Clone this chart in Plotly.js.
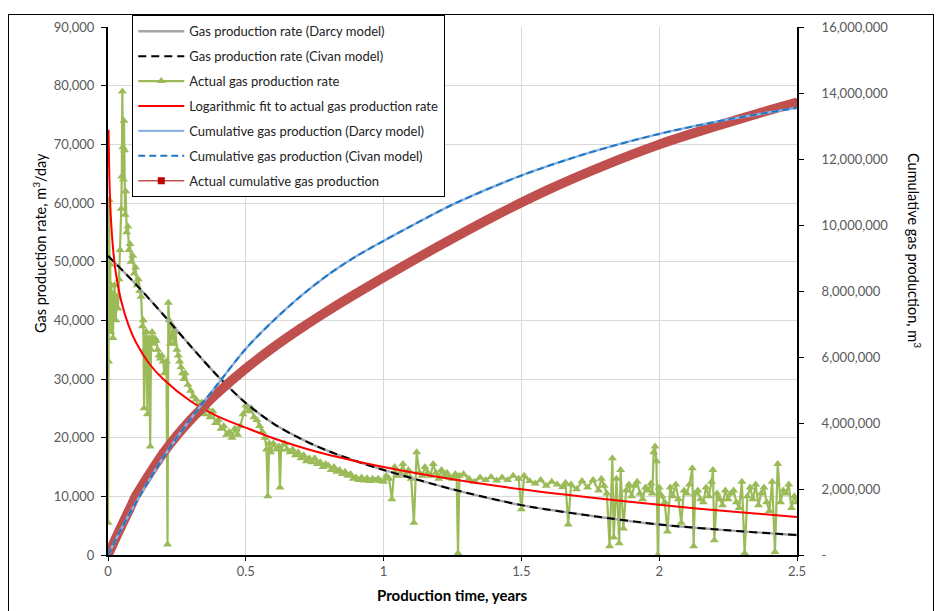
<!DOCTYPE html>
<html>
<head>
<meta charset="utf-8">
<script src="https://cdn.plot.ly/plotly-3.0.1.min.js"></script>
<style>
  html, body { margin: 0; padding: 0; background: #fff; }
  #wrap { position: relative; width: 936px; height: 611px; }
  #chart { width: 936px; height: 611px; }
  #frame { position: absolute; left: 8px; top: 14px; width: 924px; height: 604px;
           border: 1.5px solid #000; pointer-events: none; }
</style>
</head>
<body>
<div id="wrap">
  <div id="chart"></div>
  <div id="frame"></div>
</div>
<script>
// ---------------- data ----------------
// Model gas production rate, m3/day (left axis)
const modelTime  = [0, 0.1, 0.2, 0.3, 0.4, 0.5, 0.6, 0.7, 0.8, 0.9, 1.0, 1.25, 1.5, 1.75, 2.0, 2.25, 2.5];
const darcyRate  = [51000, 46200, 41000, 35600, 30400, 25900, 22400, 19800, 17700, 16000, 14500, 11200, 8500, 6700, 5200, 4200, 3400];
const civanRate  = [51000, 46200, 41000, 35600, 30400, 25900, 22400, 19800, 17700, 16000, 14500, 11200, 8500, 6700, 5200, 4200, 3400];

// Actual gas production rate, m3/day (left axis)
const actualTime = [
  0.000, 0.002, 0.004, 0.006, 0.008, 0.010, 0.012, 0.014, 0.016, 0.018,
  0.020, 0.024, 0.028, 0.032, 0.036, 0.040, 0.044, 0.048, 0.050, 0.052,
  0.054, 0.056, 0.058, 0.060, 0.062, 0.064, 0.068, 0.072, 0.076, 0.080,
  0.084, 0.090, 0.095, 0.100, 0.105, 0.110, 0.115, 0.120, 0.125, 0.128,
  0.131, 0.134, 0.137, 0.140, 0.143, 0.146, 0.150, 0.153, 0.156, 0.160,
  0.165, 0.170, 0.175, 0.180, 0.185, 0.190, 0.195, 0.200, 0.205, 0.212,
  0.216, 0.219, 0.222, 0.226, 0.230, 0.235, 0.240, 0.245, 0.250, 0.255,
  0.260, 0.265, 0.270, 0.275, 0.280, 0.290, 0.300, 0.310, 0.320, 0.330,
  0.340, 0.350, 0.360, 0.370, 0.380, 0.390, 0.400, 0.410, 0.420, 0.430,
  0.440, 0.450, 0.460, 0.470, 0.480, 0.490, 0.500, 0.510, 0.520, 0.530,
  0.540, 0.550, 0.560, 0.570, 0.575, 0.580, 0.585, 0.590, 0.600, 0.610,
  0.620, 0.624, 0.628, 0.640, 0.650, 0.660, 0.670, 0.680, 0.690, 0.700,
  0.710, 0.720, 0.730, 0.740, 0.750, 0.760, 0.770, 0.780, 0.790, 0.800,
  0.810, 0.820, 0.830, 0.840, 0.850, 0.860, 0.870, 0.880, 0.890, 0.900,
  0.910, 0.920, 0.930, 0.940, 0.950, 0.960, 0.970, 0.980, 0.990, 1.000,
  1.010, 1.020, 1.030, 1.040, 1.050, 1.060, 1.070, 1.080, 1.090, 1.100,
  1.110, 1.120, 1.130, 1.140, 1.150, 1.160, 1.170, 1.180, 1.190, 1.200,
  1.210, 1.220, 1.230, 1.240, 1.250, 1.260, 1.265, 1.270, 1.275, 1.290,
  1.310, 1.330, 1.350, 1.370, 1.390, 1.410, 1.430, 1.450, 1.470, 1.490,
  1.500, 1.510, 1.530, 1.550, 1.570, 1.590, 1.610, 1.630, 1.650, 1.660,
  1.670, 1.680, 1.700, 1.720, 1.740, 1.760, 1.780, 1.790, 1.800, 1.810,
  1.820, 1.830, 1.835, 1.845, 1.855, 1.860, 1.870, 1.880, 1.890, 1.900,
  1.910, 1.920, 1.930, 1.940, 1.950, 1.960, 1.970, 1.975, 1.980, 1.985,
  1.990, 1.995, 2.000, 2.010, 2.020, 2.030, 2.040, 2.050, 2.060, 2.070,
  2.080, 2.090, 2.100, 2.110, 2.120, 2.125, 2.130, 2.140, 2.150, 2.160,
  2.170, 2.180, 2.190, 2.195, 2.200, 2.210, 2.220, 2.230, 2.240, 2.250,
  2.260, 2.270, 2.280, 2.290, 2.300, 2.310, 2.320, 2.330, 2.340, 2.350,
  2.360, 2.370, 2.380, 2.390, 2.400, 2.410, 2.420, 2.430, 2.440, 2.450,
  2.460, 2.470, 2.480, 2.490, 2.500
];
const actualRate = [
  5500, 33000, 60500, 45000, 49500, 38000, 46000, 41000, 44000, 37000,
  43000, 46000, 40000, 44000, 42000, 47000, 52000, 59000, 64500, 79000,
  69500, 64000, 74000, 69000, 58000, 62000, 55000, 56000, 52000, 53000,
  50000, 51000, 48000, 49000, 46000, 47000, 45000, 44000, 39000, 40000,
  25000, 35000, 38000, 38000, 24000, 36000, 37000, 18500, 35000, 38000,
  36000, 37000, 36500, 35000, 34000, 33500, 34000, 33000, 31000, 33000,
  1800, 43000, 40000, 36000, 37000, 39000, 36000, 38000, 35000, 34000,
  33000, 32000, 31000, 30000, 31000, 29000, 28000, 27000, 26500, 25000,
  26000, 24000, 25000, 23500, 24500, 22500, 23000, 21500, 22000, 20500,
  21000, 20000, 21500, 20500, 22000, 24000, 25500, 24500, 25000, 23500,
  23000, 22000, 21000, 20000, 18000, 10000, 19000, 17500, 19000, 18000,
  18500, 11500, 18000, 19000, 18000, 17500, 18000, 17000, 17500, 16500,
  17000, 16000, 16500, 15800, 16500, 15500, 15800, 15000, 15500, 15200,
  14500, 15000, 14200, 14500, 13800, 14200, 13500, 13800, 13000, 13200,
  12800, 13200, 12700, 13100, 12600, 13000, 12700, 13000, 12600, 12500,
  13500, 13000, 9500, 15000, 13500, 14000, 15500, 13500, 14500, 13000,
  5500, 17500, 14000, 13500, 15000, 14000, 13500, 15500, 14000, 13000,
  14500, 13500, 14000, 13200, 13000, 13800, 13500, 300, 13500, 13800,
  13000, 12500, 13200, 12800, 13300, 12700, 13200, 12800, 13500, 13000,
  7800, 13500, 12600, 12200, 12800, 11800, 12500, 12000, 11600, 12300,
  5200, 12000, 11200, 12600, 11500, 12800, 11000, 13000, 11800, 10500,
  1500, 16500, 3000, 13000, 2000, 14500, 4500, 11000, 12000, 10000,
  11800, 12500, 10500, 9500, 11500, 11000, 12200, 10500, 17500, 18500,
  16000, 0, 11500, 10000, 9000, 4000, 11500, 10000, 12000, 9500,
  5500, 11000, 10500, 12000, 14800, 1500, 10500, 11000, 9500, 9000,
  11500, 10000, 12500, 14500, 2500, 10500, 9500, 8500, 11000, 9500,
  10500, 11000, 9000, 8000, 12500, 300, 10000, 11500, 9500, 12000,
  8500, 10500, 11500, 9000, 7500, 12500, 500, 15500, 9000, 11000,
  10500, 12000, 8000, 10000, 9000
];

// Logarithmic fit to actual gas production rate, m3/day (left axis)
const fitTime = [0.002, 0.005, 0.01, 0.02, 0.03, 0.05, 0.075, 0.1, 0.15, 0.2, 0.3, 0.4, 0.5, 0.6, 0.75, 1.0, 1.25, 1.5, 1.75, 2.0, 2.25, 2.5];
const fitRate = [72500, 64300, 57800, 51400, 47600, 42900, 39100, 36400, 32600, 30000, 26200, 23600, 21700, 19900, 17700, 15000, 12900, 11200, 9800, 8550, 7450, 6480];

// Model cumulative gas production, m3 (right axis)
const cumModelTime = [0, 0.05, 0.1, 0.15, 0.2, 0.25, 0.3, 0.35, 0.4, 0.5, 0.6, 0.7, 0.8, 0.9, 1.0, 1.1, 1.25, 1.5, 1.75, 2.0, 2.25, 2.5];
const cumDarcy = [0, 820000, 1570000, 2280000, 2950000, 3560000, 4130000, 4670000, 5200000, 6250000, 7100000, 7850000, 8500000, 9050000, 9520000, 9970000, 10620000, 11500000, 12200000, 12760000, 13200000, 13550000];
const cumCivan = [0, 820000, 1570000, 2280000, 2950000, 3560000, 4130000, 4670000, 5200000, 6250000, 7100000, 7850000, 8500000, 9050000, 9520000, 9970000, 10620000, 11500000, 12200000, 12760000, 13200000, 13550000];

// Actual cumulative gas production, m3 (right axis)
const cumActualTime = [0, 0.02, 0.05, 0.08, 0.1, 0.125, 0.15, 0.2, 0.25, 0.3, 0.35, 0.4, 0.5, 0.6, 0.7, 0.8, 0.9, 1.0, 1.2, 1.4, 1.6, 1.8, 2.0, 2.2, 2.4, 2.5];
const cumActual = [0, 360000, 900000, 1420000, 1780000, 2120000, 2450000, 3080000, 3620000, 4100000, 4530000, 4930000, 5650000, 6290000, 6870000, 7410000, 7920000, 8410000, 9360000, 10260000, 11080000, 11800000, 12440000, 12980000, 13480000, 13720000];

// Tick labels
const xTickVals = [0, 0.5, 1, 1.5, 2, 2.5];
const xTickText = ['0', '0.5', '1', '1.5', '2', '2.5'];
const yTickVals = [0, 10000, 20000, 30000, 40000, 50000, 60000, 70000, 80000, 90000];
const yTickText = ['0', '10,000', '20,000', '30,000', '40,000', '50,000', '60,000', '70,000', '80,000', '90,000'];
const y2TickVals = [0, 2000000, 4000000, 6000000, 8000000, 10000000, 12000000, 14000000, 16000000];
const y2TickText = ['-', '2,000,000', '4,000,000', '6,000,000', '8,000,000', '10,000,000', '12,000,000', '14,000,000', '16,000,000'];

const legendNames = [
  'Gas production rate (Darcy model)',
  'Gas production rate (Civan model)',
  'Actual gas production rate',
  'Logarithmic fit to actual gas production rate',
  'Cumulative gas production (Darcy model)',
  'Cumulative gas production (Civan model)',
  'Actual cumulative gas production'
];

// ---------------- traces ----------------
const FONT = 'Lato, "Open Sans", sans-serif';
const SPL = { shape: 'spline', smoothing: 0.8 };
const traces = [
  // cumulative (right axis)
  {
    x: cumActualTime, y: cumActual, yaxis: 'y2', type: 'scatter', mode: 'lines+markers',
    name: legendNames[6], legendgroup: 'g7', legendrank: 7,
    line: { color: '#C0504D', width: 1.5 },
    marker: { symbol: 'square', size: 7, color: '#C00000' }
  },
  {
    x: cumActualTime, y: cumActual, yaxis: 'y2', type: 'scatter', mode: 'lines',
    showlegend: false, legendgroup: 'g7',
    line: Object.assign({ color: '#C0504D', width: 9.5 }, SPL)
  },
  {
    x: cumModelTime, y: cumDarcy, yaxis: 'y2', type: 'scatter', mode: 'lines',
    name: legendNames[4], legendgroup: 'g5', legendrank: 5,
    line: Object.assign({ color: '#8DB4E2', width: 2.4 }, SPL)
  },
  {
    x: cumModelTime, y: cumCivan, yaxis: 'y2', type: 'scatter', mode: 'lines',
    name: legendNames[5], legendgroup: 'g6', legendrank: 6,
    line: Object.assign({ color: '#1F77C4', width: 2, dash: '7px,4px' }, SPL)
  },
  // rates (left axis)
  {
    x: actualTime, y: actualRate, type: 'scatter', mode: 'lines+markers',
    name: legendNames[2], legendgroup: 'g3', legendrank: 3,
    line: { color: '#9BBB59', width: 2.2 },
    marker: { symbol: 'triangle-up', size: 8, color: '#9BBB59' }
  },
  {
    x: modelTime, y: darcyRate, type: 'scatter', mode: 'lines',
    name: legendNames[0], legendgroup: 'g1', legendrank: 1,
    line: Object.assign({ color: '#A6A6A6', width: 2.4 }, SPL)
  },
  {
    x: modelTime, y: civanRate, type: 'scatter', mode: 'lines',
    name: legendNames[1], legendgroup: 'g2', legendrank: 2,
    line: Object.assign({ color: '#000000', width: 2, dash: '8px,5px' }, SPL)
  },
  {
    x: fitTime, y: fitRate, type: 'scatter', mode: 'lines',
    name: legendNames[3], legendgroup: 'g4', legendrank: 4,
    line: Object.assign({ color: '#FF0000', width: 2 }, SPL)
  }
];

const layout = {
  width: 936, height: 611,
  margin: { l: 108, r: 139, t: 27, b: 56, pad: 0 },
  paper_bgcolor: '#ffffff', plot_bgcolor: '#ffffff',
  font: { family: FONT, size: 12.5, color: '#595959' },
  showlegend: true,
  legend: {
    x: 0.0348, y: 1.0227, xanchor: 'left', yanchor: 'top',
    bgcolor: '#ffffff', bordercolor: '#000000', borderwidth: 1.3,
    font: { family: FONT, size: 13, color: '#222222' },
    traceorder: 'grouped', tracegroupgap: 5, itemwidth: 46
  },
  xaxis: {
    range: [0, 2.5], tickvals: xTickVals, ticktext: xTickText,
    showgrid: true, gridcolor: '#D9D9D9', gridwidth: 1,
    showline: true, linecolor: '#000000', linewidth: 1.5,
    ticks: 'outside', ticklen: 4, tickcolor: '#000000',
    zeroline: false, tickfont: { family: FONT, size: 13, color: '#595959' }
  },
  yaxis: {
    range: [0, 90000], tickvals: yTickVals, ticktext: yTickText,
    showgrid: true, gridcolor: '#D9D9D9', gridwidth: 1,
    showline: true, linecolor: '#000000', linewidth: 2,
    ticks: 'outside', ticklen: 5, tickcolor: '#000000',
    zeroline: false, tickfont: { family: FONT, size: 13, color: '#595959' },
    ticklabelstandoff: 4
  },
  yaxis2: {
    range: [0, 16000000], tickvals: y2TickVals, ticktext: y2TickText,
    overlaying: 'y', side: 'right', showgrid: false,
    showline: true, linecolor: '#000000', linewidth: 2,
    ticks: 'outside', ticklen: 5, tickcolor: '#000000',
    zeroline: false, tickfont: { family: FONT, size: 13, color: '#595959' },
    ticklabelstandoff: 15
  },
  annotations: [
    {
      text: 'Production time, years', xref: 'paper', yref: 'paper',
      x: 0.5, y: -0.0758, xanchor: 'center', yanchor: 'middle', showarrow: false,
      font: { family: FONT, size: 15, color: '#000000', weight: 'bold' }
    },
    {
      text: 'Gas production rate, m<sup>3</sup>/day', xref: 'paper', yref: 'paper',
      x: (40 - 108) / 689, y: (555 - 243) / 528, xanchor: 'center', yanchor: 'middle',
      textangle: -90, showarrow: false,
      font: { family: FONT, size: 14.5, color: '#000000' }
    },
    {
      text: 'Cumulative gas production, m<sup>3</sup>', xref: 'paper', yref: 'paper',
      x: (915 - 108) / 689, y: (555 - 250) / 528, xanchor: 'center', yanchor: 'middle',
      textangle: 90, showarrow: false,
      font: { family: FONT, size: 14.5, color: '#000000' }
    }
  ]
};

Plotly.newPlot('chart', traces, layout, { staticPlot: true, displayModeBar: false });
</script>
</body>
</html>
